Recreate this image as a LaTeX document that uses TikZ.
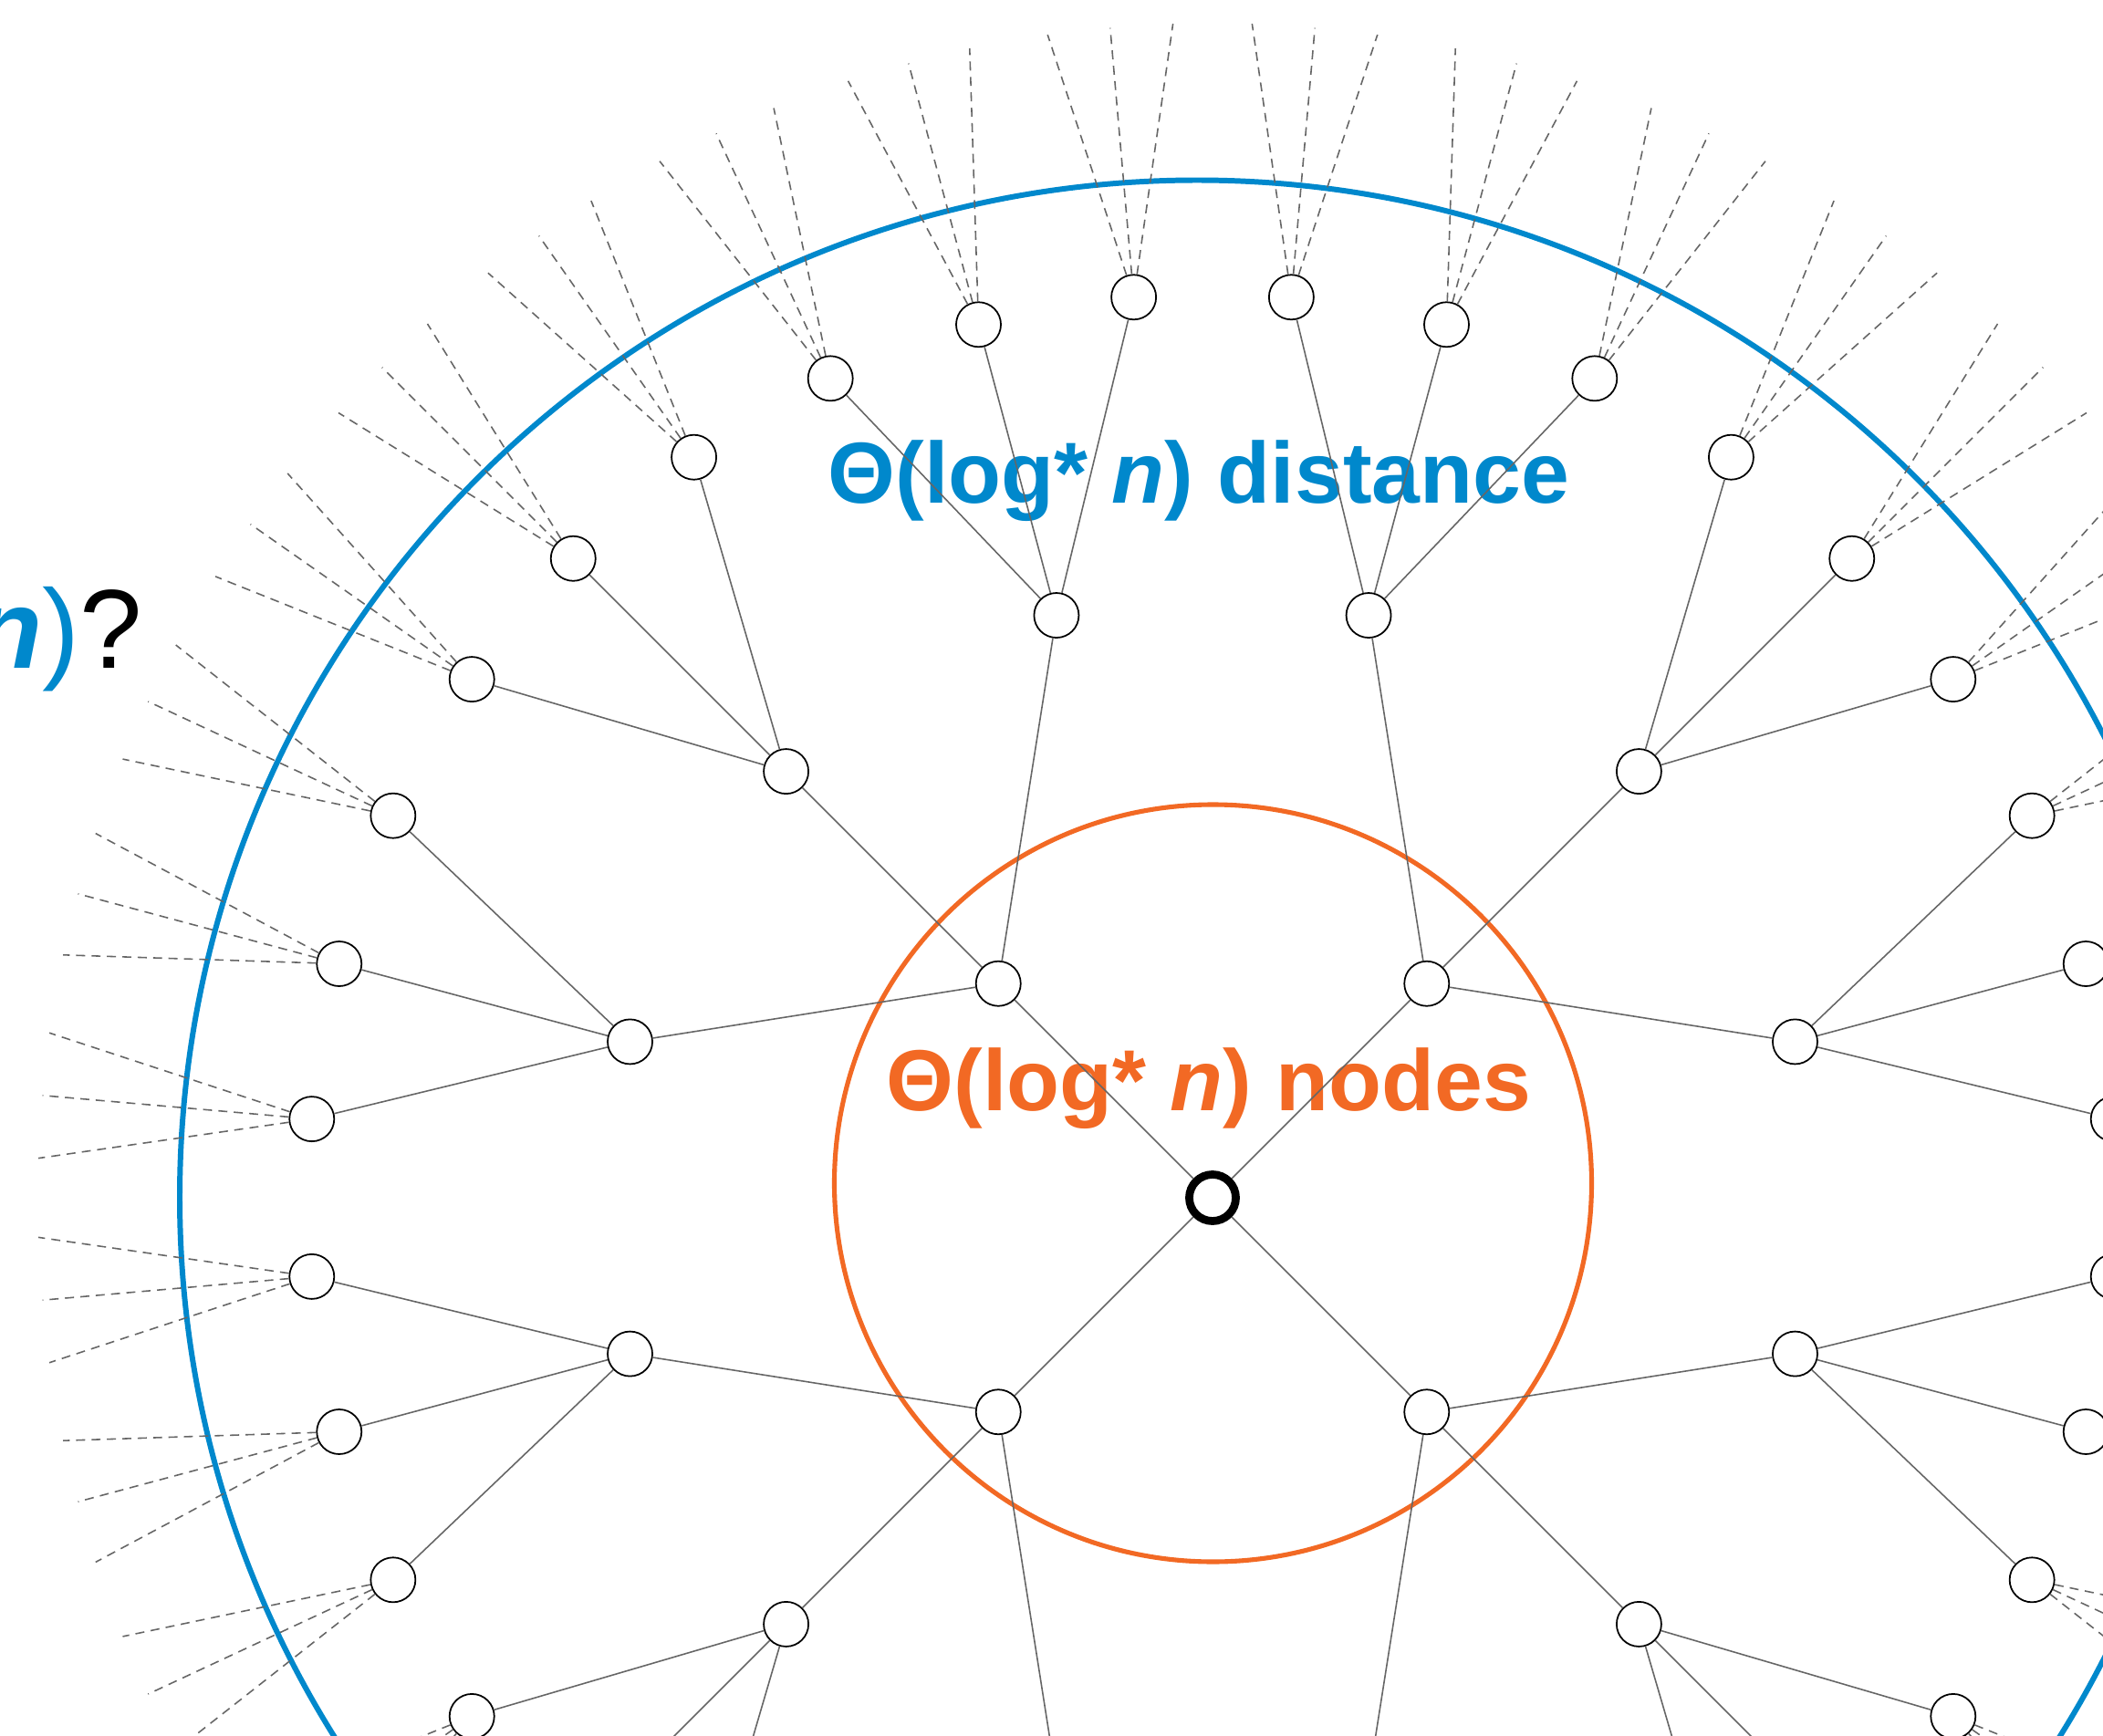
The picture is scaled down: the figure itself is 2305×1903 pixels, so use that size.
\documentclass[tikz,border=0pt]{standalone}
\usepackage{fontspec}
\setmainfont{Liberation Sans}
\definecolor{distblue}{RGB}{0,136,204}
\definecolor{nodeorange}{RGB}{242,105,36}
\definecolor{edgegray}{RGB}{102,102,102}
\tikzset{
  vtx/.style={circle,draw=black,fill=white,line width=0.5pt,minimum size=0.49cm,inner sep=0pt},
  rootvtx/.style={vtx,line width=2.5pt,minimum size=0.51cm},
  ghost/.style={circle,minimum size=0.68cm,inner sep=0pt},
  link/.style={draw=edgegray,line width=0.45pt},
  stub/.style={draw=edgegray,line width=0.45pt,dash pattern=on 2.8pt off 2pt},
  bigtext/.style={font=\fontsize{27}{32}\selectfont\bfseries,inner sep=0pt}
}

\begin{document}
\begin{tikzpicture}[x=0.01cm,y=-0.01cm]
\useasboundingbox (0,0) rectangle (2305,1903);
\clip (0,0) rectangle (2305,1903);

%Shapes: Circles
\draw [distblue,line width=1.7pt] (1312,1312.5) circle [radius=1115];
\draw [nodeorange,line width=1.45pt] (1329.5,1297) circle [radius=415];

% Text Node
\node [bigtext,text=distblue,anchor=base] (dist) at (1314,551) {Θ(log* \textit{n}) distance};
% Text Node
\node [bigtext,text=nodeorange,anchor=base] (nodes) at (1325,1217) {Θ(log* \textit{n}) nodes};
% Text Node
\node [font=\fontsize{35}{40}\selectfont,inner sep=0pt,anchor=base east] (ask) at (157,732)
  {\textcolor{distblue}{\textbf{\textit{n}})}?};

%Tree
\begin{scope}[shift={(1329,1313)}]
\node [rootvtx] (r) at (0,0) {};
\foreach \i in {0,...,3} {
  \pgfmathsetmacro\ta{45+90*\i}
  \node [vtx] (a\i) at (\ta:332) {};
  \draw [link] (r) -- (a\i);
  \foreach \j in {1,2,3} {
    \pgfmathsetmacro\tb{\ta+30*(\j-2)}
    \node [vtx] (b\i\j) at (\tb:661) {};
    \draw [link] (a\i) -- (b\i\j);
    \foreach \k in {1,2,3} {
      \pgfmathsetmacro\tc{\tb+10*(\k-2)}
      \node [vtx] (c\i\j\k) at (\tc:991) {};
      \draw [link] (b\i\j) -- (c\i\j\k);
      \foreach \l in {1,2,3} {
        \pgfmathsetmacro\td{\tc+10/3*(\l-2)}
        \node [ghost] (d\i\j\k\l) at (\td:1322) {};
        \draw [stub] (c\i\j\k) -- (d\i\j\k\l);
      }
    }
  }
}
\end{scope}

\end{tikzpicture}
\end{document}
